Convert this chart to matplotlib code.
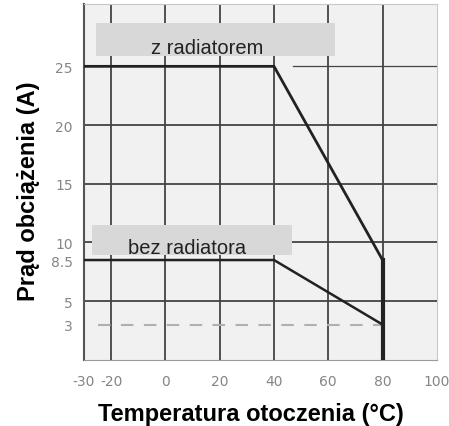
import matplotlib.pyplot as plt

# derating curves (temperature in C, current in A)
temp_with = [-30, 40, 80, 80]
amps_with = [25, 25, 8.5, 0]
temp_without = [-30, 40, 80, 80]
amps_without = [8.5, 8.5, 3, 0]

x_ticks = [-30, -20, 0, 20, 40, 60, 80, 100]
x_labels = ['-30', '-20', '0', '20', '40', '60', '80', '100']
y_ticks = [3, 5, 8.5, 10, 15, 20, 25]
y_labels = ['3', '5', '8.5', '10', '15', '20', '25']
grid_x = [-20, 0, 20, 40, 60, 80]
grid_y = [5, 10, 15, 20]
min_current = 3

fig = plt.figure(figsize=(4.49, 4.27), dpi=100)
ax = fig.add_axes([0.187, 0.155, 0.786, 0.833])
ax.set_facecolor('#f1f1f1')
ax.set_xlim(-30, 100)
ax.set_ylim(0, 30.3)

grid_col = '#444444'
for gx in grid_x:
    ax.axvline(gx, color=grid_col, lw=1.3, zorder=1)
for gy in grid_y:
    ax.axhline(gy, color=grid_col, lw=1.3, zorder=1)
# the 25 A line only shows right of the knee
ax.axhline(25, xmin=(47 + 30) / 130, xmax=1, color=grid_col, lw=0.9, zorder=1)

# dashed minimum current line
ax.plot([-25, 80], [min_current, min_current], color='#b0b0b0', lw=1.5,
        dashes=(6, 5), zorder=2)

# label boxes
ax.fill_between([-25.6, 62.3], 25.9, 28.7, color='#d8d8d8', lw=0, zorder=3)
ax.fill_between([-27, 46.8], 8.9, 11.5, color='#d8d8d8', lw=0, zorder=3)
ax.text(15.4, 26.6, 'z radiatorem', ha='center', va='center', fontsize=14.5,
        family='Liberation Sans', color='#222222', zorder=4)
ax.text(7.8, 9.6, 'bez radiatora', ha='center', va='center', fontsize=14.5,
        family='Liberation Sans', color='#222222', zorder=4)

ax.plot(temp_with[:3], amps_with[:3], color='#222222', lw=2, zorder=5)
ax.plot(temp_without[:3], amps_without[:3], color='#222222', lw=1.8, zorder=5)
ax.plot(temp_with[2:], amps_with[2:], color='#222222', lw=3, zorder=5)

ax.set_xticks(x_ticks)
ax.set_xticklabels(x_labels)
ax.set_yticks(y_ticks)
ax.set_yticklabels(y_labels)
ax.tick_params(length=0, labelsize=10, labelcolor='#858585', pad=8)
ax.tick_params(axis='x', pad=10)

for side in ['top', 'right']:
    ax.spines[side].set_color('#c8c8c8')
ax.spines['left'].set_color('#555555')
ax.spines['left'].set_linewidth(1.5)
ax.spines['bottom'].set_color('#9a9a9a')

ax.set_xlabel('Temperatura otoczenia (°C)', fontsize=17, fontweight='bold',
              family='Liberation Sans', labelpad=10)
ax.set_ylabel('Prąd obciążenia (A)', fontsize=17, fontweight='bold',
              family='Liberation Sans', labelpad=8)
ax.xaxis.label.set_x(0.473)
ax.yaxis.label.set_y(0.478)

fig.savefig('out.png', dpi=100)
